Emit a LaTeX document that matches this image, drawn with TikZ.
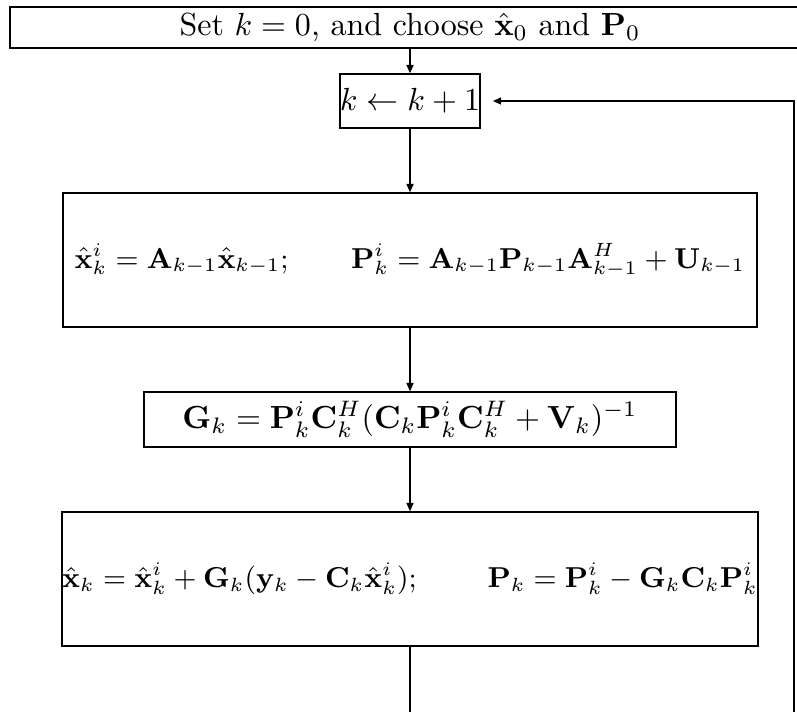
\documentclass[tikz,border=0pt]{standalone}
\usetikzlibrary{arrows.meta}
\begin{document}
\begin{tikzpicture}[x=0.3125pt,y=-0.3125pt,
  flowbox/.style={draw,line width=0.45pt,inner sep=0pt,anchor=center},
  flowarrow/.style={draw,line width=0.45pt,-{Triangle[length=2.6pt,width=2.2pt]}}]
\useasboundingbox (0,0) rectangle (797,711);
\clip (0,0) rectangle (797,711);
\node[flowbox,minimum width=250pt,minimum height=12.81pt] (init) at (410,27.7)
  {Set $k=0$, and choose $\hat{\mathbf{x}}_0$ and $\mathbf{P}_0$};
\node[flowbox,minimum width=42.19pt,minimum height=16.875pt] (inc) at (410,101)
  {$k \leftarrow k+1$};
\node[flowbox,minimum width=216.9pt,minimum height=41.9pt,font=\small] (pred) at (410,260)
  {$\hat{\mathbf{x}}_k^i = \mathbf{A}_{k-1}\hat{\mathbf{x}}_{k-1}; \qquad \mathbf{P}_k^i = \mathbf{A}_{k-1}\mathbf{P}_{k-1}\mathbf{A}_{k-1}^H + \mathbf{U}_{k-1}$};
\node[flowbox,minimum width=166.25pt,minimum height=17.19pt] (gain) at (410,419.5)
  {$\mathbf{G}_k = \mathbf{P}_k^i\mathbf{C}_k^H(\mathbf{C}_k\mathbf{P}_k^i\mathbf{C}_k^H + \mathbf{V}_k)^{-1}$};
\node[flowbox,minimum width=216.9pt,minimum height=41.9pt,font=\small] (upd) at (410,579)
  {$\hat{\mathbf{x}}_k = \hat{\mathbf{x}}_k^i + \mathbf{G}_k(\mathbf{y}_k - \mathbf{C}_k\hat{\mathbf{x}}_k^i); \qquad\; \mathbf{P}_k = \mathbf{P}_k^i - \mathbf{G}_k\mathbf{C}_k\mathbf{P}_k^i$};
\coordinate (loopA) at (410,740);
\coordinate (loopB) at (794,740);
\coordinate (loopC) at (794,101);
\path[flowarrow] (init.south) -- (inc.north);
\path[flowarrow] (inc.south) -- (pred.north);
\path[flowarrow] (pred.south) -- (gain.north);
\path[flowarrow] (gain.south) -- (upd.north);
\path[flowarrow,shorten >=3.75pt] (upd.south) -- (loopA) -- (loopB) -- (loopC) -- (inc.east);
\end{tikzpicture}
\end{document}
